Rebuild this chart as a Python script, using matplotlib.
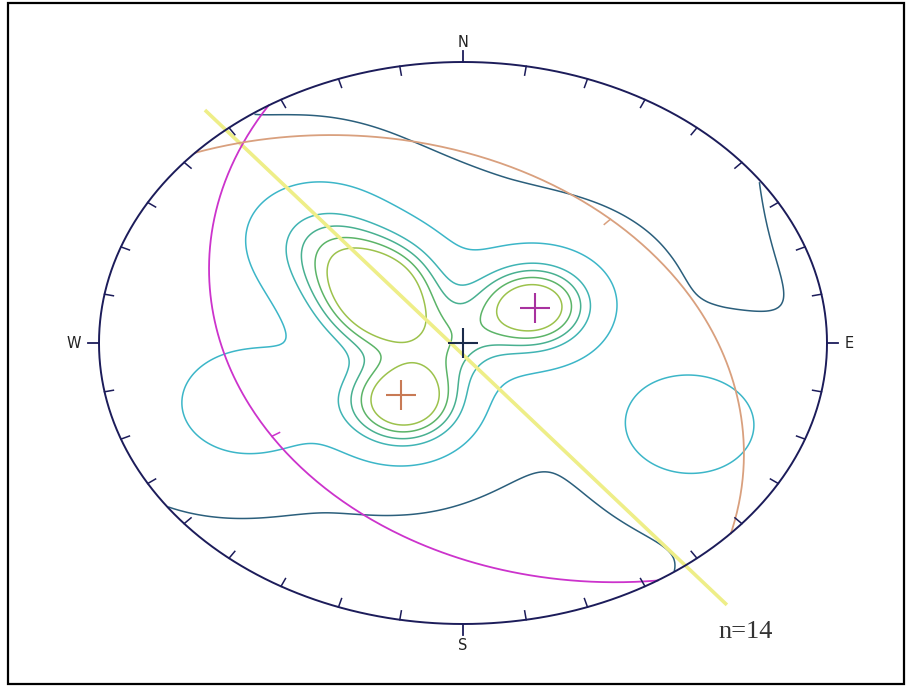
import numpy as np
import matplotlib.pyplot as plt
from matplotlib.patches import Rectangle

# poles to joints, lower hemisphere (trend, plunge in degrees), n = 14
pole_trend = [308, 322, 299, 293, 226, 215, 211, 43, 57, 69, 280, 115, 314, 250]
pole_plunge = [48, 55, 60, 65, 57, 66, 58, 66, 58, 66, 87, 22, 32, 26]

# mean planes (dip direction / dip)
plane_dipdir = [237.7, 42.6]
plane_dip = [26.3, 28.2]
plane_colors = ['#cc33cc', '#d9a07e']

# mean poles drawn as crosses
mean_trend = [57.7, 222.6, 0]
mean_plunge = [63.7, 61.8, 90]
mean_colors = ['#a8329f', '#c87a55', '#1a2a4a']

# straight trace (net units)
trace_x = [-0.709, 0.725]
trace_y = [0.829, -0.932]

contour_levels = [0.115, 0.6, 1.3, 1.65, 2.0, 2.35]
contour_colors = ['#2b5f7c', '#3cb6c8', '#40b4b4', '#48b090', '#5cb468', '#9cc24c']
k_narrow, k_broad, w_broad = 25.0, 4.0, 0.05


def project(trend, plunge):
    # stereographic (equal angle) projection, lower hemisphere
    t = np.radians(trend)
    th = np.radians(90 - np.asarray(plunge))
    r = np.tan(th / 2)
    return r * np.sin(t), r * np.cos(t)


def vec(trend, plunge):
    t = np.radians(trend)
    p = np.radians(plunge)
    return np.array([np.cos(p) * np.sin(t), np.cos(p) * np.cos(t), -np.sin(p)])


fig = plt.figure(figsize=(9.1, 6.88), dpi=100)
fig.patch.set_facecolor('white')
fig.add_artist(Rectangle((8 / 910, 4 / 688), 896 / 910, 681 / 688, transform=fig.transFigure,
                         fill=False, edgecolor='black', linewidth=1.6))

ax = fig.add_axes([99 / 910, 64 / 688, 728 / 910, 562 / 688])
ax.set_xlim(-1, 1)
ax.set_ylim(-1, 1)
ax.axis('off')

# density grid
g = np.linspace(-1, 1, 301)
X, Y = np.meshgrid(g, g)
R = np.hypot(X, Y)
th = 2 * np.arctan(R)
tr = np.arctan2(X, Y)
G = np.stack([np.sin(th) * np.sin(tr), np.sin(th) * np.cos(tr), -np.cos(th)], axis=-1)
P = np.array([vec(t, p) for t, p in zip(pole_trend, pole_plunge)])
dots = np.abs(G @ P.T)
D = (np.exp(k_narrow * (dots - 1)) + w_broad * np.exp(k_broad * (dots - 1))).sum(axis=-1)
D[R > 1.0] = np.nan
ax.contour(X, Y, D, levels=contour_levels, colors=contour_colors, linewidths=1.1)

# yellow trace
ax.plot(trace_x, trace_y, color='#eeee88', linewidth=2.6, solid_capstyle='butt', clip_on=False)

# great circles
for dd, dip, c in zip(plane_dipdir, plane_dip, plane_colors):
    a = np.radians(np.linspace(0, 180, 200))
    sv = np.array([np.sin(np.radians(dd - 90)), np.cos(np.radians(dd - 90)), 0])
    dv = vec(dd, dip)
    pts = np.outer(np.cos(a), sv) + np.outer(np.sin(a), dv)
    pl = np.degrees(np.arcsin(np.clip(-pts[:, 2], -1, 1)))
    tt = np.degrees(np.arctan2(pts[:, 0], pts[:, 1]))
    gx, gy = project(tt, pl)
    ax.plot(gx, gy, color=c, linewidth=1.3)
    # small dip tick
    mx, my = project(dd, dip)
    ux, uy = np.sin(np.radians(dd)), np.cos(np.radians(dd))
    ax.plot([mx, mx - 0.025 * ux], [my, my - 0.025 * uy], color=c, linewidth=1.1)

# mean poles
for t, p, c in zip(mean_trend, mean_plunge, mean_colors):
    mx, my = project(t, p)
    ax.plot(mx, my, marker='+', markersize=22, markeredgewidth=1.5, color=c)

# primitive circle with ticks
az = np.radians(np.linspace(0, 360, 721))
ax.plot(np.sin(az), np.cos(az), color='#1c1c5a', linewidth=1.4, clip_on=False)
for d in range(0, 360, 10):
    s, c = np.sin(np.radians(d)), np.cos(np.radians(d))
    if d % 90 == 0:
        ax.plot([s, s * (1 + 11 / 364)], [c, c * (1 + 11 / 281)], color='#1c1c5a', lw=1.3, clip_on=False)
    else:
        ax.plot([s, s * (1 - 9 / 364)], [c, c * (1 - 9 / 281)], color='#1c1c5a', lw=1.1, clip_on=False)

lab_kw = dict(fontsize=10.5, ha='center', va='center', color='#222222')
ax.text(0, 1.07, 'N', **lab_kw)
ax.text(0, -1.075, 'S', **lab_kw)
ax.text(-1.068, 0, 'W', **lab_kw)
ax.text(1.06, 0, 'E', **lab_kw)

fig.text(746 / 910, 1 - 632 / 688, 'n=14', family='Liberation Serif', fontsize=19,
         ha='center', va='center', color='#333333')

fig.savefig('out.png', dpi=100)
